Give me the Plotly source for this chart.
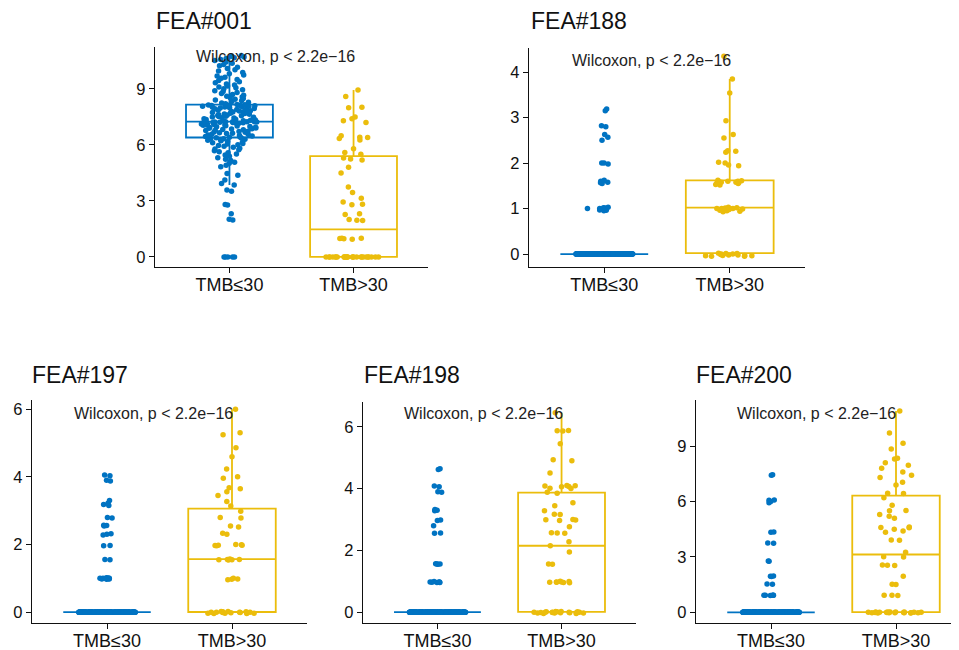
import plotly.graph_objects as go

# ---------------- data ----------------
groups = ["TMB≤30", "TMB>30"]
panel_titles = ["FEA#001", "FEA#188", "FEA#197", "FEA#198", "FEA#200"]
test_label = "Wilcoxon, p < 2.2e\u221216"
y_tick_steps = [3, 1, 2, 2, 3]

# FEA#001
fea001_low = [
    0, 0, 0, 0, 0,
    1.98, 2.02, 2.31, 2.78, 2.81, 3.52, 3.58, 3.86, 3.94, 4.12, 4.38, 4.47, 4.83, 4.91, 5.02,
    5.08, 5.17, 5.23, 5.31, 5.39, 5.46, 5.52, 5.58, 5.63, 5.69, 5.74, 5.79, 5.83, 5.88, 5.93,
    5.97, 6.01, 6.05, 6.08, 6.12, 6.15, 6.19, 6.22, 6.25, 6.28, 6.31, 6.33, 6.35, 6.37, 6.39,
    6.41, 6.43, 6.46, 6.48, 6.51, 6.53, 6.56, 6.58, 6.61, 6.63, 6.65, 6.68, 6.70, 6.72, 6.74,
    6.77, 6.79, 6.81, 6.83, 6.85, 6.87, 6.89, 6.91, 6.93, 6.95, 6.97, 6.99, 7.01, 7.03, 7.05,
    7.07, 7.08, 7.10, 7.12, 7.13, 7.15, 7.16, 7.17, 7.18, 7.19, 7.20, 7.21, 7.22, 7.23, 7.23,
    7.24, 7.24, 7.25, 7.25, 7.25,
    7.26, 7.28, 7.30, 7.32, 7.34, 7.36, 7.38, 7.40, 7.42, 7.44, 7.46, 7.48, 7.50, 7.52, 7.54,
    7.56, 7.58, 7.60, 7.62, 7.64, 7.66, 7.68, 7.70, 7.72, 7.74, 7.76, 7.78, 7.80, 7.82, 7.84,
    7.86, 7.88, 7.90, 7.92, 7.94, 7.96, 7.98, 8.00, 8.02, 8.04, 8.06, 8.07, 8.08, 8.09, 8.10,
    8.11, 8.12, 8.13, 8.14, 8.15,
    8.17, 8.21, 8.25, 8.29, 8.33, 8.37, 8.41, 8.45, 8.49, 8.53, 8.57, 8.61, 8.66, 8.71, 8.76,
    8.81, 8.86, 8.91, 8.96, 9.01, 9.06, 9.11, 9.16, 9.21, 9.27, 9.33, 9.39, 9.45, 9.51, 9.57,
    9.63, 9.69, 9.75, 9.82, 9.89, 9.96, 10.03, 10.10, 10.17, 10.24, 10.31, 10.38, 10.45, 10.52,
    10.58, 10.63, 10.68, 10.72, 10.76, 10.80,
]
fea001_high_zero_count = 27
fea001_high_nonzero = [
    0.95, 0.97, 0.99, 1.0, 1.0, 2.0, 1.97, 1.95, 2.28, 2.31, 2.80, 2.82, 2.95, 3.15, 3.45,
    3.75, 4.50, 4.80, 5.20, 5.25, 5.30, 5.50, 5.60, 5.80, 6.27, 6.35, 6.40, 6.42, 6.50,
    7.20, 7.30, 7.40, 7.50, 8.00, 8.02, 8.60, 8.95,
]

# FEA#188
fea188_low_zero_count = 220
fea188_low_nonzero = [
    3.19, 3.15, 2.80, 2.82, 2.63, 2.57, 2.50, 2.0, 2.0, 1.98, 1.58, 1.60, 1.62, 1.57, 1.55,
    1.03, 1.0, 1.0, 0.98, 0.97, 1.01, 0.99, 0.96, 1.0, 0.95, 1.02,
]
fea188_high = [
    -0.04, -0.02, 0.0, -0.05, 0.01, -0.03, -0.01, 0.02, -0.04, 0.0, -0.02, -0.05, 0.01, -0.03,
    0.93, 0.95, 0.96, 0.97, 0.98, 0.99, 1.0, 1.0, 1.0, 1.01, 1.02, 1.03, 0.94, 1.0,
    1.52, 1.53, 1.55, 1.56, 1.57, 1.58, 1.58, 1.59, 1.60, 1.60, 1.61, 1.62,
    1.94, 1.96, 2.0, 2.02, 2.24, 2.26, 2.27, 2.55, 2.63, 2.93, 3.54, 3.85, 4.35,
]

# FEA#197
fea197_low_zero_count = 220
fea197_low_nonzero = [
    4.03, 4.05, 3.90, 3.88, 3.30, 3.22, 3.18, 3.15, 2.80, 2.78, 2.56, 2.55, 2.57, 2.32, 2.30,
    2.28, 1.97, 1.96, 1.56, 1.55, 1.0, 0.98, 1.0, 0.99, 1.01, 0.97, 1.0, 1.02, 0.98, 1.0,
]
fea197_high = [
    -0.03, 0.0, -0.02, 0.01, -0.04, 0.0, -0.01, 0.02, -0.03, 0.0, -0.02, 0.01, -0.04, 0.0,
    -0.01, 0.02, -0.03, 0.0,
    0.96, 0.97, 0.98, 1.0,
    1.54, 1.55, 1.56, 1.57, 1.56, 1.55,
    1.96, 1.97, 1.98, 1.99, 1.98, 2.0, 2.30, 2.33, 2.52, 2.55, 2.78, 2.80, 2.98, 3.14, 3.27,
    3.45, 3.56, 3.65, 3.68, 3.96, 4.0, 4.23, 4.59, 4.86, 5.24, 5.30, 6.0,
]

# FEA#198
fea198_low_zero_count = 220
fea198_low_nonzero = [
    4.64, 4.62, 4.08, 4.06, 3.90, 3.88, 3.30, 3.32, 3.28, 2.98, 2.97, 2.80, 2.56, 2.55, 1.56,
    1.57, 1.55, 1.56, 0.97, 0.98, 0.96, 0.97, 0.99, 0.98, 0.97, 0.96,
]
fea198_high = [
    -0.03, 0.0, -0.02, 0.01, -0.04, 0.0, -0.01, 0.02, -0.03, 0.0, -0.02, 0.01, -0.04, 0.0,
    -0.01, 0.02, -0.03, 0.0, -0.02, 0.01,
    0.95, 0.96, 0.97, 0.97, 0.98, 0.98, 0.99, 1.0,
    1.56, 1.55, 1.95, 2.15, 2.28, 2.56, 2.55, 2.57, 2.76, 2.98, 2.97, 2.99, 3.0, 3.17, 3.16,
    3.28, 3.44, 3.54, 3.85, 3.88, 4.0, 4.01, 4.08, 4.07, 4.09, 4.06, 4.10, 4.50, 4.90, 4.93,
    5.45, 5.86, 5.87, 5.88, 6.45,
]

# FEA#200
fea200_low_zero_count = 220
fea200_low_nonzero = [
    7.43, 7.45, 6.07, 6.08, 6.0, 5.93, 4.34, 4.35, 3.74, 3.75, 2.77, 2.78, 1.95, 1.96, 1.94,
    1.52, 1.53, 0.92, 0.93, 0.91, 0.92, 0.93, 0.92,
]
fea200_high = [
    -0.03, 0.0, -0.02, 0.01, -0.04, 0.0, -0.01, 0.02, -0.03, 0.0, -0.02, 0.01, -0.04, 0.0,
    -0.01, 0.02, -0.03, 0.0, -0.02, 0.01, -0.01,
    0.92, 0.93, 0.91, 1.52, 1.50, 1.95, 2.55, 2.56, 2.54, 3.0, 3.01,
    3.25, 3.90, 3.92, 4.34, 4.40, 4.50, 4.60, 4.62, 4.58, 5.10, 5.20, 5.30, 5.50, 5.52, 5.80,
    6.20, 6.45, 6.44, 6.90, 7.05, 7.30, 7.43, 7.60, 7.80, 7.97, 8.10, 8.30, 8.35, 8.84, 9.16,
    9.71, 10.90,
]

low_series = [
    fea001_low,
    [0.0] * fea188_low_zero_count + fea188_low_nonzero,
    [0.0] * fea197_low_zero_count + fea197_low_nonzero,
    [0.0] * fea198_low_zero_count + fea198_low_nonzero,
    [0.0] * fea200_low_zero_count + fea200_low_nonzero,
]
high_series = [
    [0.0] * fea001_high_zero_count + fea001_high_nonzero,
    fea188_high,
    fea197_high,
    fea198_high,
    fea200_high,
]

# ---------------- layout geometry ----------------
PAGE_W, PAGE_H = 959, 650
OFF = 8                      # default body margin of the html page
W, H = PAGE_W - OFF, PAGE_H - OFF


def fx(px):
    return (px - OFF) / W


def fy(py):
    return 1 - (py - OFF) / H


# panel pixel boxes on the page: (left, right, top, bottom)
panel_px = [
    (155, 428, 47, 267),
    (529, 805, 48, 267),
    (32, 307, 400, 623),
    (363, 636, 402, 623),
    (696, 959, 400, 623),
]
y_ranges = [[-0.54, 11.25], [-0.285, 4.53], [-0.32, 6.27], [-0.35, 6.8], [-0.58, 11.5]]
x_ranges = [[-0.6, 1.6], [-0.6, 1.6], [-0.6, 1.6], [-0.6, 1.6], [-0.6, 1.504]]
title_pos = [(154, 21), (529, 21), (30, 375), (362, 375), (694, 375)]
label_pos = [(194, 57), (570, 60), (72, 413), (402, 413), (735, 413)]

colors = ["#0073C2", "#EBBD0C"]
font_family = "Liberation Sans, Arial, sans-serif"

fig = go.Figure()
annotations = []
layout_axes = {}

for i in range(5):
    xa = "x" if i == 0 else f"x{i+1}"
    ya = "y" if i == 0 else f"y{i+1}"
    for g, vals in enumerate([low_series[i], high_series[i]]):
        fig.add_trace(go.Box(
            x=[groups[g]] * len(vals),
            y=vals,
            xaxis=xa, yaxis=ya,
            width=0.7,
            quartilemethod="inclusive",
            boxpoints="all", jitter=0.65, pointpos=0,
            whiskerwidth=0,
            line=dict(color=colors[g], width=1.8),
            fillcolor="rgba(255,255,255,0)",
            marker=dict(color=colors[g], size=5.5, line=dict(width=0)),
            showlegend=False,
        ))
    l, r, t, b = panel_px[i]
    xname = "xaxis" if i == 0 else f"xaxis{i+1}"
    yname = "yaxis" if i == 0 else f"yaxis{i+1}"
    layout_axes[xname] = dict(
        domain=[max(0.0, fx(l)), min(1.0, fx(r))], anchor=ya,
        type="category", categoryorder="array", categoryarray=groups,
        range=x_ranges[i],
        showline=True, linecolor="#111", linewidth=1.4,
        ticks="outside", ticklen=5, tickcolor="#111", tickwidth=1.3,
        ticklabelstandoff=-4,
        showgrid=False, zeroline=False,
        tickfont=dict(family=font_family, size=18, color="#111"),
    )
    layout_axes[yname] = dict(
        domain=[fy(b), fy(t)], anchor=xa,
        range=y_ranges[i], tick0=0, dtick=y_tick_steps[i],
        showline=True, linecolor="#111", linewidth=1.4,
        ticks="outside", ticklen=5, tickcolor="#111", tickwidth=1.3,
        showgrid=False, zeroline=False,
        tickfont=dict(family=font_family, size=16.5, color="#111"),
    )
    tx, ty = title_pos[i]
    annotations.append(dict(
        text=panel_titles[i], x=fx(tx), y=fy(ty), xref="paper", yref="paper",
        xanchor="left", yanchor="middle", showarrow=False,
        font=dict(family=font_family, size=23, color="#111"),
    ))
    lx, ly = label_pos[i]
    annotations.append(dict(
        text=test_label, x=fx(lx), y=fy(ly), xref="paper", yref="paper",
        xanchor="left", yanchor="middle", showarrow=False,
        font=dict(family=font_family, size=16, color="#222"),
    ))

fig.update_layout(
    width=W, height=H,
    margin=dict(l=0, r=0, t=0, b=0),
    paper_bgcolor="white", plot_bgcolor="white",
    showlegend=False,
    annotations=annotations,
    **layout_axes,
)

fig.write_html("out.html")
